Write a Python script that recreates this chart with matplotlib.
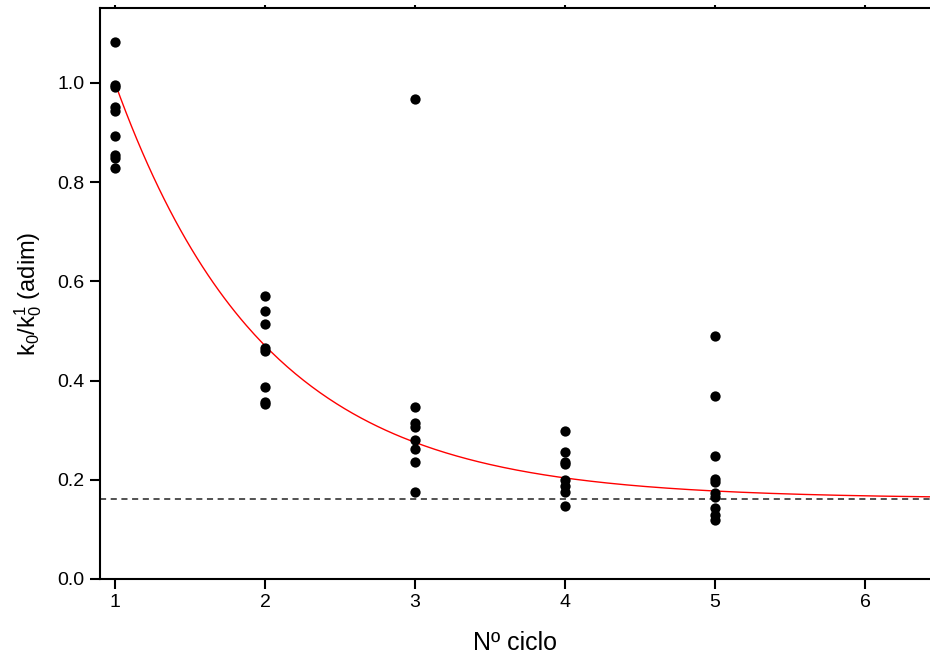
import matplotlib
matplotlib.use("Agg")
import matplotlib.pyplot as plt
import numpy as np

plt.rcParams["font.family"] = ["Liberation Sans", "DejaVu Sans"]
plt.rcParams["mathtext.default"] = "regular"

# measured k0/k0^1 per cycle
cycle_1 = [1.083, 0.995, 0.992, 0.952, 0.944, 0.893, 0.855, 0.848, 0.828]
cycle_2 = [0.570, 0.541, 0.513, 0.465, 0.460, 0.388, 0.357, 0.353]
cycle_3 = [0.968, 0.347, 0.315, 0.307, 0.280, 0.263, 0.235, 0.176]
cycle_4 = [0.298, 0.256, 0.235, 0.231, 0.200, 0.188, 0.176, 0.147]
cycle_5 = [0.490, 0.369, 0.247, 0.202, 0.196, 0.173, 0.166, 0.144, 0.129, 0.118]
cycles = [1, 2, 3, 4, 5]
values = [cycle_1, cycle_2, cycle_3, cycle_4, cycle_5]

# exponential decay fit: y = plateau + amp * exp(-rate * (n - 1))
plateau = 0.162
amp = 0.838
rate = 1.0
fit_start, fit_end = 1.0, 6.45

x_ticks = [1, 2, 3, 4, 5, 6]
y_ticks = [0.0, 0.2, 0.4, 0.6, 0.8, 1.0]

fig = plt.figure(figsize=(9.3, 6.59), dpi=100)
ax = fig.add_axes([0.1075, 0.1214, 0.8925, 0.8665])

for n, vals in zip(cycles, values):
    ax.plot([n] * len(vals), vals, "o", color="black", markersize=7.4,
            markeredgewidth=0, zorder=3)

xf = np.linspace(fit_start, fit_end, 300)
ax.plot(xf, plateau + amp * np.exp(-rate * (xf - 1)), color="red", lw=1.0, zorder=2)
ax.axhline(plateau - 0.001, color="#222222", lw=1.1, ls=(0, (4, 3)), zorder=1)

ax.set_xlim(0.9, 6.433)
ax.set_ylim(0.0, 1.151)
ax.set_xticks(x_ticks)
ax.set_yticks(y_ticks)
ax.set_yticklabels([f"{v:.1f}" for v in y_ticks])

ax.spines["right"].set_visible(False)
ax.spines["left"].set_linewidth(1.5)
ax.spines["bottom"].set_linewidth(1.5)
ax.spines["top"].set_linewidth(1.5)
ax.tick_params(axis="both", direction="out", length=7, width=1.5, labelsize=14, pad=4)
ax.tick_params(axis="x", top=True, labeltop=False)
for t in ax.xaxis.get_majorticklines()[1::2]:
    t.set_markersize(2)

ax.set_xlabel("Nº ciclo", fontsize=18, labelpad=14)
ax.set_ylabel(r"$k_0/k_0^1$ (adim)", fontsize=17, labelpad=10)

plt.savefig("out.png", dpi=100)
plt.close()
